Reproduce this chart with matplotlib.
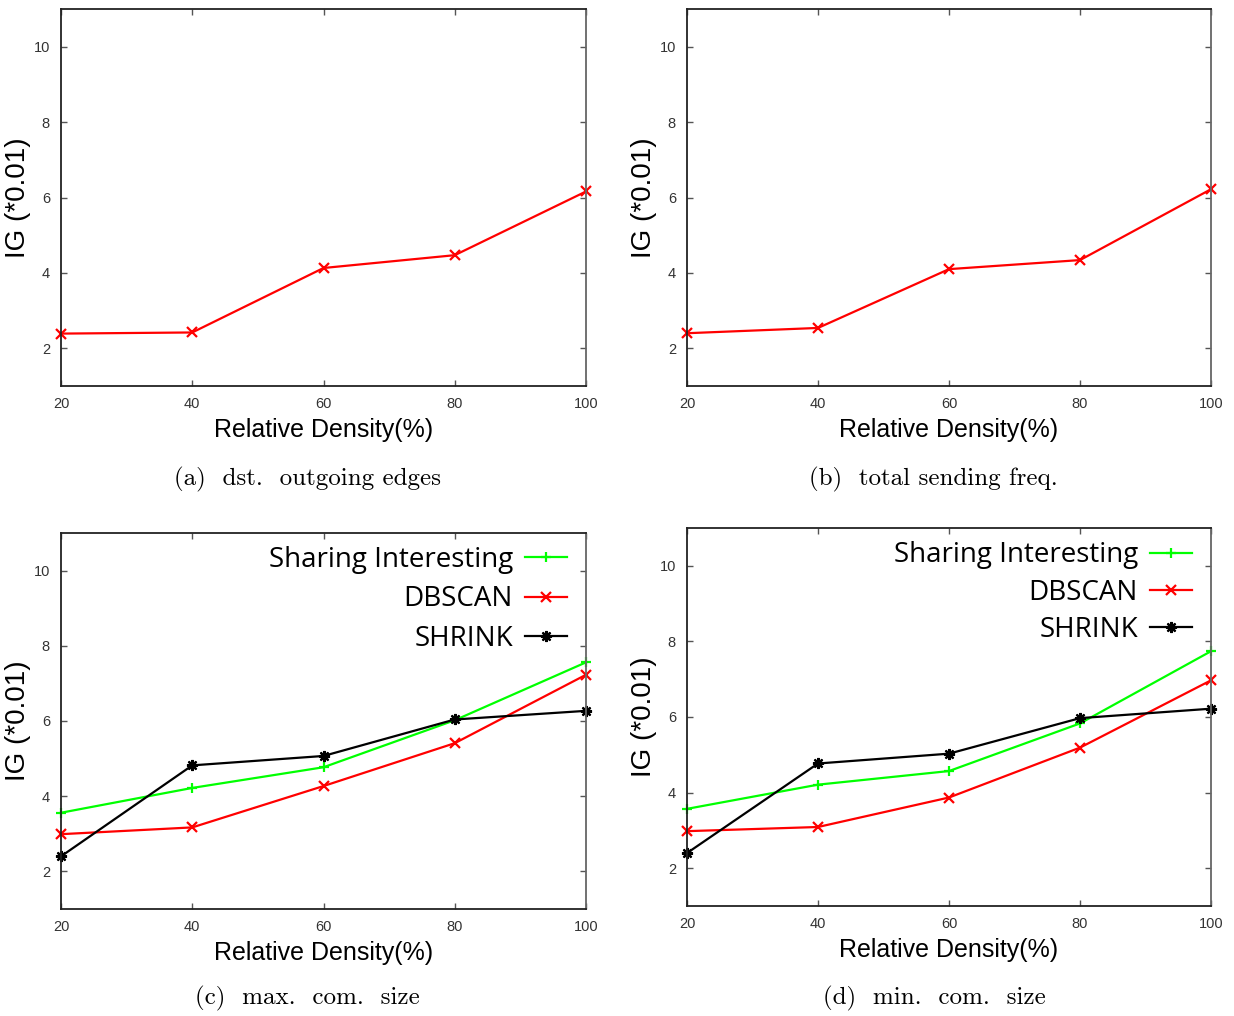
import matplotlib
matplotlib.use("Agg")
import matplotlib.pyplot as plt

W, H = 1234, 1016

density = [20, 40, 60, 80, 100]
x_ticks = [20, 40, 60, 80, 100]
y_ticks = [2, 4, 6, 8, 10]

# (a) dst. outgoing edges
a_dbscan = [2.39, 2.42, 4.13, 4.47, 6.16]
# (b) total sending freq.
b_dbscan = [2.40, 2.54, 4.10, 4.34, 6.22]
# (c) max. com. size
c_sharing = [3.56, 4.22, 4.77, 6.02, 7.56]
c_dbscan = [2.99, 3.17, 4.27, 5.41, 7.23]
c_shrink = [2.40, 4.82, 5.07, 6.04, 6.27]
# (d) min. com. size
d_sharing = [3.57, 4.21, 4.57, 5.83, 7.74]
d_dbscan = [2.98, 3.09, 3.87, 5.19, 6.97]
d_shrink = [2.40, 4.77, 5.03, 5.97, 6.22]

captions = ["(a)  dst.  outgoing edges", "(b)  total sending freq.",
            "(c)  max.  com.  size", "(d)  min.  com.  size"]
legend_labels = ["Sharing Interesting", "DBSCAN", "SHRINK"]

fig = plt.figure(figsize=(W / 100, H / 100), dpi=100)
fig.patch.set_facecolor("white")


def px_axes(l, r, t, b):
    return fig.add_axes([l / W, 1 - b / H, (r - l) / W, (b - t) / H])


rects = [(61, 586, 9, 386), (687, 1211, 9, 386),
         (61, 586, 533, 909), (687, 1211, 528, 906)]
axes = [px_axes(*r) for r in rects]

RED = "#ff0000"
GREEN = "#00ff00"
BLACK = "#000000"
star = (8, 2, 0)

line_kw = dict(lw=1.6, ms=7, mew=1.6, clip_on=False)


def style(ax):
    ax.set_xlim(20, 100)
    ax.set_ylim(1, 11)
    ax.set_xticks(x_ticks)
    ax.set_yticks(y_ticks)
    ax.tick_params(direction="in", length=4, width=1, color="#555555",
                   top=True, right=True, labelsize=10.5, labelcolor="#333333",
                   pad=8)
    ax.tick_params(axis="x", pad=8)
    for s in ["left", "bottom", "top"]:
        ax.spines[s].set_color("#222222")
        ax.spines[s].set_linewidth(1.3)
    ax.spines["right"].set_color("#666666")
    ax.spines["right"].set_linewidth(1.3)
    for lab in ax.get_xticklabels() + ax.get_yticklabels():
        lab.set_family("Liberation Sans")
    ax.set_xlabel("Relative Density(%)", fontsize=18, family="Liberation Sans",
                  labelpad=5)
    ax.set_ylabel("IG (*0.01)", fontsize=20, family="Liberation Sans",
                  labelpad=2)


ax = axes[0]
ax.plot(density, a_dbscan, color=RED, marker="x", **line_kw)
style(ax)

ax = axes[1]
ax.plot(density, b_dbscan, color=RED, marker="x", **line_kw)
style(ax)

for ax, sh, db, sk, ls, top in [(axes[2], c_sharing, c_dbscan, c_shrink, 0.42, 0.996),
                                (axes[3], d_sharing, d_dbscan, d_shrink, 0.33, 0.994)]:
    ax.plot(density, sh, color=GREEN, marker="+", label=legend_labels[0], **line_kw)
    ax.plot(density, db, color=RED, marker="x", label=legend_labels[1], **line_kw)
    ax.plot(density, sk, color=BLACK, marker=star, label=legend_labels[2],
            lw=1.6, ms=8, mew=1.6, clip_on=False)
    style(ax)
    ax.legend(loc="upper right", bbox_to_anchor=(0.985, top), frameon=False,
              markerfirst=False, prop={"family": "Open Sans", "size": 20},
              handlelength=1.5, handletextpad=0.45, labelspacing=ls,
              borderpad=0.2, borderaxespad=0.2)

cap_pos = [(307, 479), (933, 479), (307, 998), (934, 998)]
for (cx, cy), txt in zip(cap_pos, captions):
    fig.text(cx / W, 1 - cy / H, txt, ha="center", va="center",
             fontsize=18, family="cmr10")

fig.savefig("out.png", dpi=100)
